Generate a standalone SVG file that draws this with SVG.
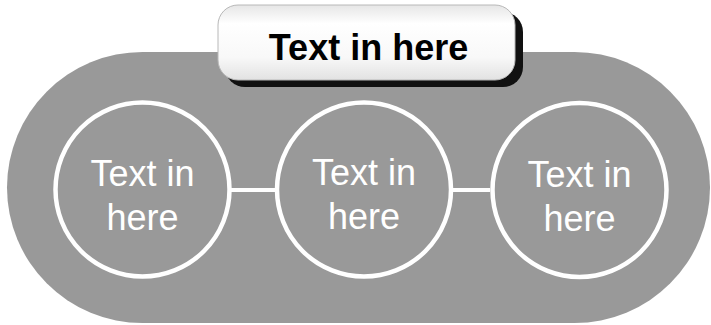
<svg xmlns="http://www.w3.org/2000/svg" width="711" height="325" viewBox="0 0 711 325">
<defs>
<linearGradient id="gl" x1="0" y1="0" x2="0" y2="1">
<stop offset="0" stop-color="#e6e6e6"/>
<stop offset="0.25" stop-color="#ffffff"/>
<stop offset="0.7" stop-color="#f8f8f8"/>
<stop offset="1" stop-color="#e2e2e2"/>
</linearGradient>
<style>
.ring{fill:none;stroke:#ffffff;stroke-width:4.5}
.lbl{font-family:"Liberation Sans",Arial,sans-serif;font-size:36px;fill:#ffffff;text-anchor:middle}
.title{font-family:"Liberation Sans",Arial,sans-serif;font-size:36px;font-weight:bold;fill:#000000;text-anchor:middle}
.conn{stroke:#ffffff;stroke-width:4}
</style>
</defs>
<rect id="background" x="7" y="52" width="703" height="271" rx="135.5" ry="135.5" fill="#999999"/>
<g id="connectors">
<line class="conn" x1="231" y1="190" x2="276" y2="190"/>
<line class="conn" x1="452" y1="190" x2="490" y2="190"/>
</g>
<g id="header">
<rect x="225" y="12" width="298" height="75" rx="20" fill="#111111"/>
<rect x="218" y="5" width="297" height="75" rx="20" fill="url(#gl)" stroke="#b8b8b8" stroke-width="1"/>
<text class="title" x="368.5" y="60">Text in here</text>
</g>
<g id="node1">
<circle class="ring" cx="142.5" cy="189.5" r="87"/>
<text class="lbl" x="142.5" y="186">Text in</text>
<text class="lbl" x="142.5" y="230">here</text>
</g>
<g id="node2">
<circle class="ring" cx="364" cy="189.5" r="87"/>
<text class="lbl" x="364" y="185">Text in</text>
<text class="lbl" x="364" y="229">here</text>
</g>
<g id="node3">
<circle class="ring" cx="579.5" cy="190" r="87"/>
<text class="lbl" x="579.5" y="187">Text in</text>
<text class="lbl" x="579.5" y="231">here</text>
</g>
</svg>
